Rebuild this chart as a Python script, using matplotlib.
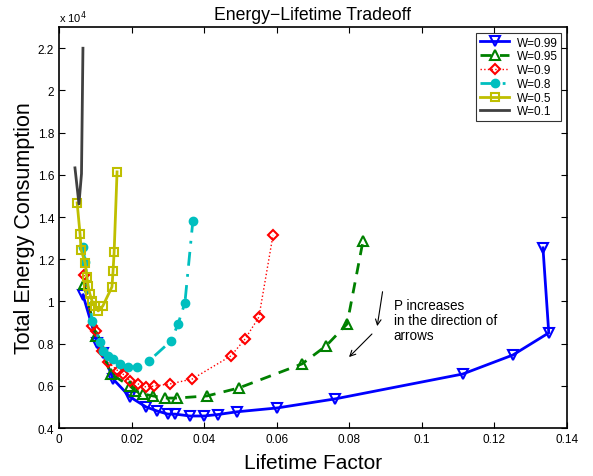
import matplotlib
matplotlib.use("Agg")
import matplotlib.pyplot as plt
from matplotlib.ticker import FormatStrFormatter

plt.rcParams['font.family'] = ['Liberation Sans', 'DejaVu Sans']

# Data (energy in units of 10^4)
w099_x = [0.0066, 0.0105, 0.0121, 0.0149, 0.0196, 0.0240, 0.0270, 0.0300, 0.0320,
          0.0361, 0.0400, 0.0438, 0.0491, 0.0601, 0.0761, 0.1113, 0.1251, 0.1350, 0.1334]
w099_y = [1.031, 0.803, 0.756, 0.632, 0.547, 0.500, 0.481, 0.466, 0.466,
          0.457, 0.457, 0.464, 0.477, 0.495, 0.538, 0.656, 0.746, 0.851, 1.254]

w095_x = [0.0069, 0.0102, 0.0143, 0.0196, 0.0210, 0.0232, 0.0259, 0.0292, 0.0325,
          0.0408, 0.0496, 0.0670, 0.0736, 0.0794, 0.0838]
w095_y = [1.083, 0.836, 0.656, 0.599, 0.576, 0.561, 0.552, 0.542, 0.542,
          0.552, 0.590, 0.704, 0.789, 0.893, 1.287]

w09_x = [0.0069, 0.0091, 0.0102, 0.0118, 0.0135, 0.0163, 0.0176, 0.0196, 0.0218,
         0.0240, 0.0262, 0.0306, 0.0367, 0.0474, 0.0513, 0.0551, 0.0590]
w09_y = [1.125, 0.884, 0.860, 0.765, 0.713, 0.670, 0.656, 0.623, 0.609,
         0.594, 0.599, 0.609, 0.632, 0.742, 0.822, 0.926, 1.315]

w08_x = [0.0066, 0.0072, 0.0091, 0.0113, 0.0121, 0.0135, 0.0149, 0.0168, 0.0190,
         0.0215, 0.0248, 0.0309, 0.0328, 0.0347, 0.0369]
w08_y = [1.258, 1.187, 0.908, 0.808, 0.765, 0.742, 0.727, 0.704, 0.689,
         0.689, 0.718, 0.813, 0.893, 0.993, 1.382]

w05_x = [0.0050, 0.0058, 0.0061, 0.0072, 0.0077, 0.0080, 0.0085, 0.0091, 0.0099,
         0.0108, 0.0121, 0.0146, 0.0149, 0.0152, 0.0160]
w05_y = [1.467, 1.320, 1.244, 1.183, 1.116, 1.073, 1.036, 1.002, 0.979,
         0.955, 0.979, 1.069, 1.145, 1.235, 1.614]

w01_x = [0.0044, 0.0055, 0.0062, 0.0066]
w01_y = [1.633, 1.462, 1.605, 2.200]

x_ticks = [0, 0.02, 0.04, 0.06, 0.08, 0.1, 0.12, 0.14]
y_ticks = [0.4, 0.6, 0.8, 1.0, 1.2, 1.4, 1.6, 1.8, 2.0, 2.2]

fig = plt.figure(figsize=(5.93, 4.77), dpi=100)
ax = fig.add_axes([0.0995, 0.1006, 0.8565, 0.8404])

ms = 7
ax.plot(w099_x, w099_y, '-', color='#0000ff', lw=2, marker='v', ms=ms,
        mfc='none', mec='#0000ff', mew=1.5, label='W=0.99')
ax.plot(w095_x, w095_y, '--', color='#008000', lw=2, marker='^', ms=ms,
        mfc='none', mec='#008000', mew=1.5, label='W=0.95', dashes=(4, 3))
ax.plot(w09_x, w09_y, ':', color='#ff0000', lw=1, marker='D', ms=5.5,
        mfc='none', mec='#ff0000', mew=1.5, label='W=0.9')
ax.plot(w08_x, w08_y, '-.', color='#00bfbf', lw=2, marker='o', ms=6,
        mfc='#00bfbf', mec='#00bfbf', label='W=0.8', dashes=(5, 3, 1, 3))
ax.plot(w05_x, w05_y, '-', color='#bfbf00', lw=2, marker='s', ms=6,
        mfc='none', mec='#bfbf00', mew=1.5, label='W=0.5')
ax.plot(w01_x, w01_y, '-', color='#404040', lw=2, label='W=0.1')

ax.set_xlim(0, 0.14)
ax.set_ylim(0.4, 2.3)
ax.set_xticks(x_ticks)
ax.set_yticks(y_ticks)
ax.xaxis.set_major_formatter(FormatStrFormatter('%g'))
ax.yaxis.set_major_formatter(FormatStrFormatter('%g'))
ax.tick_params(direction='in', top=True, right=True, labelsize=8.5, length=4, width=0.8)
for s in ax.spines.values():
    s.set_linewidth(1.2)

ax.set_title('Energy\u2212Lifetime Tradeoff', fontsize=12.7, pad=6)
ax.set_xlabel('Lifetime Factor', fontsize=15, labelpad=6)
ax.set_ylabel('Total Energy Consumption', fontsize=15.5, labelpad=2)
ax.text(0.0, 1.005, 'x 10$^4$', transform=ax.transAxes, fontsize=8,
        ha='left', va='bottom')

ax.annotate('', xy=(0.0876, 0.870), xytext=(0.0893, 1.059),
            arrowprops=dict(arrowstyle='->', color='black', lw=0.8))
ax.annotate('', xy=(0.0794, 0.727), xytext=(0.0868, 0.855),
            arrowprops=dict(arrowstyle='->', color='black', lw=0.8))
ax.text(0.0923, 1.015, 'P increases\nin the direction of\narrows', fontsize=9.75,
        ha='left', va='top', linespacing=1.1)

leg = ax.legend(loc='upper right', fontsize=8.5, frameon=True, fancybox=False,
                edgecolor='black', borderpad=0.3, labelspacing=0.15,
                handlelength=2.5, handletextpad=0.6, borderaxespad=0.5)
leg.get_frame().set_linewidth(0.8)

fig.savefig('out.png', dpi=100)
